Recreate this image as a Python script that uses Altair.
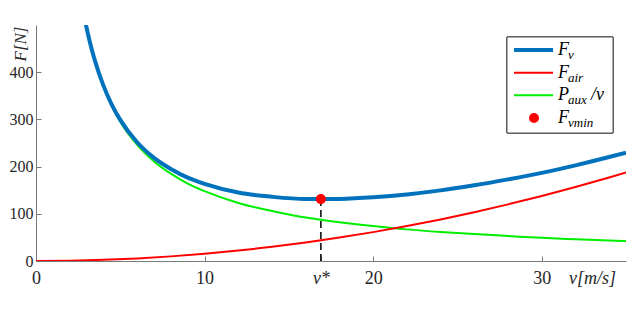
import altair as alt
import pandas as pd

# Curves (v in m/s, forces in N)
v_main = [2.95, 3.25, 3.5, 4, 4.5, 5, 6, 7, 8, 9, 10, 12, 14, 16, 16.9, 18, 20, 22, 24, 26, 28, 30, 32, 34, 35]
f_v = [502, 456, 424, 371.5, 331, 299, 251.5, 218.5, 195, 176.5, 163.3, 145, 136, 131.2, 131.1, 131.6, 135.2, 141.1, 149.6, 160.4, 173, 186.7, 202.7, 220.3, 229.6]
f_aux = [500.7, 454.5, 422, 369, 328, 295, 246, 211, 185, 164, 148, 123, 106, 92, 87.4, 82, 74, 67, 61.5, 57, 53, 49, 46, 43.4, 42.2]
v_air = [0, 2, 4, 6, 8, 10, 12, 14, 16, 18, 20, 22, 24, 26, 28, 30, 32, 34, 35]
f_air = [0, 0.6, 2.45, 5.5, 9.8, 15.3, 22, 30, 39.2, 49.6, 61.2, 74.1, 88.1, 103.4, 120, 137.7, 156.7, 176.9, 187.4]
v_star = [16.9]
f_min = [131.1]

# Legend entries
keys = ["Fv", "Fair", "Paux", "Fvmin"]
main_txt = ["F", "F", "P", "F"]
sub_txt = ["v", "air", "aux", "vmin"]
suffix_txt = ["", "", "/v", ""]
colors = ["#0072BD", "#FF0000", "#00EE00", "#FF0000"]
widths = [4, 2, 2, 0]

df_v = pd.DataFrame({"v": v_main, "F": f_v, "series": keys[0]})
df_aux = pd.DataFrame({"v": v_main, "F": f_aux, "series": keys[2]})
df_air = pd.DataFrame({"v": v_air, "F": f_air, "series": keys[1]})
df_min = pd.DataFrame({"v": v_star, "F": f_min, "F0": [0], "series": keys[3]})
df_leg = pd.DataFrame({"key": keys, "main": main_txt, "sub": sub_txt, "suffix": suffix_txt,
                       "w": widths})

xscale = alt.Scale(domain=[0, 35], nice=False, zero=False)
yscale = alt.Scale(domain=[0, 500], nice=False)
cscale = alt.Scale(domain=keys, range=colors)
lscale = alt.Scale(type="point", domain=keys, range=[25, 93], padding=0)

serif = "Liberation Serif"

xaxis = alt.Axis(
    values=[0, 10, 16.9, 20, 30],
    labelExpr="datum.value == 16.9 ? 'v*' : datum.label",
    labelFontStyle={"condition": {"test": "datum.value == 16.9", "value": "italic"}, "value": "normal"},
    title="v[m/s]", titleX=556, titleY=17, titleAlign="center", titleBaseline="middle",
    titleFontStyle="italic", titleFontWeight="normal", titleFont=serif, titleFontSize=18,
    tickSize=alt.ExprRef("-5"), labelPadding=13, labelFlush=False,
    labelFont=serif, labelFontSize=18,
)
yaxis = alt.Axis(
    values=[0, 100, 200, 300, 400],
    title="F[N]", titleX=-16, titleY=1, titleAngle=270, titleAlign="right", titleBaseline="middle",
    titleFontStyle="italic", titleFontWeight="normal", titleFont=serif, titleFontSize=17,
    tickSize=alt.ExprRef("-5"), labelPadding=8, labelFlush=False,
    labelFont=serif, labelFontSize=16,
)

color_enc = alt.Color("series:N", scale=cscale, legend=None)

green = alt.Chart(df_aux).mark_line(strokeWidth=2, clip=True, interpolate="monotone").encode(
    x=alt.X("v:Q", scale=xscale, axis=xaxis), y=alt.Y("F:Q", scale=yscale, axis=yaxis), color=color_enc)
red = alt.Chart(df_air).mark_line(strokeWidth=2, clip=True, interpolate="monotone").encode(
    x=alt.X("v:Q", scale=xscale), y=alt.Y("F:Q", scale=yscale, axis=None), color=color_enc)
blue = alt.Chart(df_v).mark_line(strokeWidth=4, clip=True, interpolate="monotone").encode(
    x=alt.X("v:Q", scale=xscale), y=alt.Y("F:Q", scale=yscale, axis=None), color=color_enc)
dash = alt.Chart(df_min).mark_rule(strokeDash=[7, 4], strokeWidth=1.5, color="black").encode(
    x=alt.X("v:Q", scale=xscale), y=alt.Y("F0:Q", scale=yscale, axis=None), y2="F:Q")
dot = alt.Chart(df_min).mark_point(filled=True, size=100, opacity=1, shape="circle").encode(
    x=alt.X("v:Q", scale=xscale), y=alt.Y("F:Q", scale=yscale, axis=None), color=color_enc)

# legend drawn from the legend table
leg_box = alt.Chart(df_leg).mark_rect(fill="white", stroke="#555555", strokeWidth=1).encode(
    x=alt.value(471), x2=alt.value(577), y=alt.value(12), y2=alt.value(108))
leg_lines = alt.Chart(df_leg).transform_filter("datum.w > 0").mark_rule().encode(
    x=alt.value(478), x2=alt.value(517),
    y=alt.Y("key:N", scale=lscale, axis=None),
    color=alt.Color("key:N", scale=cscale, legend=None),
    strokeWidth=alt.StrokeWidth("w:Q", scale=None, legend=None))
leg_dot = alt.Chart(df_leg).transform_filter("datum.w == 0").mark_point(
    filled=True, size=100, opacity=1, shape="circle").encode(
    x=alt.value(498),
    y=alt.Y("key:N", scale=lscale, axis=None),
    color=alt.Color("key:N", scale=cscale, legend=None))
leg_main = alt.Chart(df_leg).mark_text(
    align="left", baseline="middle", font=serif, fontSize=18, fontStyle="italic", color="black").encode(
    x=alt.value(522), y=alt.Y("key:N", scale=lscale, axis=None), text="main:N")
leg_sub = alt.Chart(df_leg).mark_text(
    align="left", baseline="middle", font=serif, fontSize=13, fontStyle="italic", color="black", dy=5).encode(
    x=alt.value(532), y=alt.Y("key:N", scale=lscale, axis=None), text="sub:N")
leg_suf = alt.Chart(df_leg).mark_text(
    align="left", baseline="middle", font=serif, fontSize=18, fontStyle="italic", color="black").encode(
    x=alt.value(555), y=alt.Y("key:N", scale=lscale, axis=None), text="suffix:N")

chart = alt.layer(green, red, blue, dash, dot, leg_box, leg_lines, leg_dot, leg_main, leg_sub, leg_suf
).resolve_scale(y="independent").properties(
    width=590, height=236,
    padding={"left": 28, "top": 17, "right": 6, "bottom": 40},
    autosize=alt.AutoSizeParams(type="none"),
).configure_view(stroke=None).configure_axis(
    grid=False, domainColor="#7a7a7a", tickColor="#7a7a7a", domainWidth=1, tickWidth=1,
    labelColor="#262626", titleColor="#262626",
)

chart.save("out.html", embed_options={"renderer": "svg", "actions": False})
